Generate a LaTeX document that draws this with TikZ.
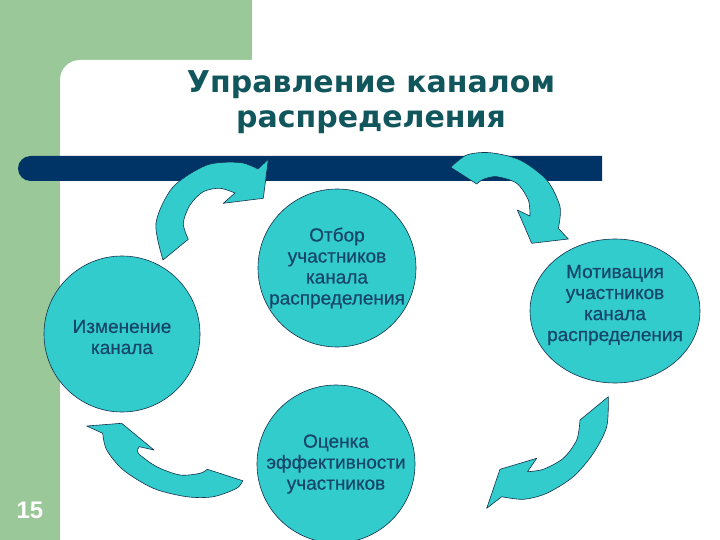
\documentclass[tikz,border=0pt]{standalone}
\usepackage{fontspec}
\setmainfont{Liberation Sans}
\newfontfamily\titlefam{DejaVu Sans}
\newfontfamily\lblfam[FakeBold=0.5]{Liberation Sans}
\usetikzlibrary{shapes.geometric}
\definecolor{bggreen}{RGB}{155,200,152}
\definecolor{barnavy}{RGB}{0,51,102}
\definecolor{cyanfill}{RGB}{51,204,204}
\definecolor{edgecol}{RGB}{20,50,80}
\definecolor{titleteal}{RGB}{16,86,92}
\definecolor{lbltext}{RGB}{22,70,108}
\begin{document}
\begin{tikzpicture}[x=1pt,y=-1pt,
  disc/.style={circle, fill=cyanfill, draw=edgecol, line width=0.6pt, inner sep=0pt},
  oval/.style={ellipse, fill=cyanfill, draw=edgecol, line width=0.6pt, inner sep=0pt},
  lbl/.style={font=\lblfam\fontsize{19}{21}\selectfont, text=lbltext, align=center},
  titletext/.style={font=\titlefam\bfseries\fontsize{30}{35}\selectfont, text=titleteal, anchor=base},
  curvearrow/.style={fill=cyanfill, draw=edgecol, line width=0.6pt, line join=round}]
\useasboundingbox (0,0) rectangle (720,540);
% background
\fill[white] (0,0) rectangle (720,540);
\fill[bggreen] (0,0) rectangle (252,60);
\fill[bggreen] (0,0) rectangle (60,540);
\fill[bggreen] (60,60) rectangle (80,80);
\fill[white] (60,540) -- (60,80) arc[start angle=180,end angle=90,radius=20pt] -- (252,60) -- (252,540) -- cycle;
% bar
\fill[barnavy] (602,156) -- (30.5,156) arc[start angle=90,end angle=270,radius=12.5pt] -- (602,181) -- cycle;
% title
\node[titletext] (t1) at (371,93) {Управление каналом};
\node[titletext] (t2) at (371,128) {распределения};
% circles
\node[disc, minimum size=158pt] (sel) at (337,268) {};
\node[disc, minimum size=156pt] (chg) at (122,334) {};
\node[oval, minimum width=170pt, minimum height=144pt] (mot) at (615,311) {};
\node[disc, minimum size=158pt] (eval) at (336,464) {};
\node[lbl] (selt) at (sel) {Отбор\\участников\\канала\\распределения};
\node[lbl] (chgt) at ([yshift=-3pt]chg) {Изменение\\канала};
\node[lbl] (mott) at ([yshift=6pt]mot) {Мотивация\\участников\\канала\\распределения};
\node[lbl] (evalt) at (eval) {Оценка\\эффективности\\участников};
% arrows
\filldraw[curvearrow] (163,260) -- plot[smooth] coordinates {(163,260) (156,223) (173,187) (207,165) (240,162.5) (258,169)}
  -- (268.3,159.3) -- (263.3,198.3) -- (223.3,203.3)
  -- plot[smooth] coordinates {(235,193) (220,188.3) (203.3,191.7) (190,205) (183.3,223.3) (188.3,239.3)} -- cycle;
\filldraw[curvearrow] (450.7,167.3) -- plot[smooth] coordinates {(450.7,167.3) (466.7,155) (490,152.7) (520,160) (546.7,180) (560,206.7) (558.3,228.3)}
  -- (568.3,239) -- (531.7,243.3) -- (517.3,210)
  -- plot[smooth] coordinates {(530,216) (528.3,200) (516.7,183.3) (496.7,176.7) (483.3,179.3) (476.7,184)} -- cycle;
\filldraw[curvearrow] (608.3,396.7) -- plot[smooth] coordinates {(608.3,396.7) (606.7,426.7) (593.3,453.3) (573.3,476.7) (546.7,493.3) (523.3,499.3) (501.7,496.7)}
  -- (486.7,508.3) -- (500,469.3) -- (536.7,458.3)
  -- plot[smooth] coordinates {(527.5,471.7) (543.3,469.3) (563.3,458.3) (576.7,440) (580,420)} -- cycle;
\filldraw[curvearrow] (86.7,426) -- (121.7,423.3) -- (154,450)
  -- plot[smooth] coordinates {(139.3,446.7) (138.3,453.3) (156.7,466.7) (180,475) (200,473.3) (207.3,469.3)}
  -- (242.7,480.7)
  -- plot[smooth] coordinates {(242.7,480.7) (236.7,488.3) (213.3,496.7) (186.7,496.7) (153.3,488.3) (123.3,470) (106.7,450) (102.7,433.3)} -- cycle;
% page number
\node[font=\bfseries\fontsize{24}{24}\selectfont, text=white, anchor=base] (pg) at (30,518) {15};
\end{tikzpicture}
\end{document}
